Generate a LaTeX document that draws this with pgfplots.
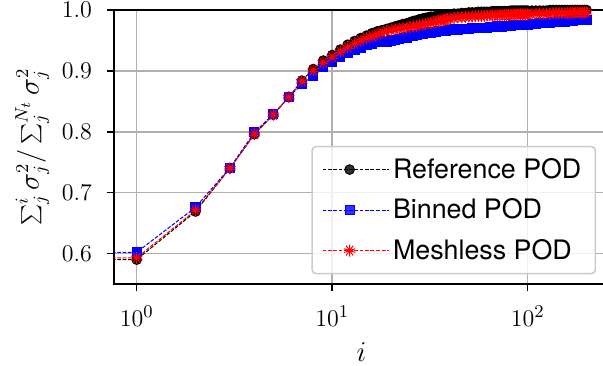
\documentclass[border=0pt]{standalone}
\usepackage{fontspec}
\usepackage{pgfplots}
\pgfplotsset{compat=1.18}
\usepackage{pgfplotstable}
\usetikzlibrary{calc,plotmarks}
\newfontfamily\legfont{TeX Gyre Heros}
\definecolor{gridgray}{RGB}{176,176,176}
\definecolor{legedge}{RGB}{204,204,204}

\pgfplotstableread{
i ref bin mesh
0.001 0.590 0.602 0.593
1 0.590 0.602 0.593
2 0.669 0.676 0.671
3 0.740 0.741 0.740
4 0.796 0.799 0.796
5 0.828 0.829 0.828
6 0.857 0.857 0.857
7 0.884 0.878 0.883
8 0.903 0.892 0.901
9 0.917 0.906 0.914
10 0.926 0.915 0.923
11 0.935 0.923 0.932
12 0.943 0.929 0.939
13 0.949 0.934 0.945
14 0.954 0.938 0.950
15 0.958 0.942 0.954
16 0.962 0.945 0.957
17 0.965 0.947 0.960
18 0.967 0.949 0.963
19 0.969 0.948 0.965
20 0.971 0.950 0.967
21 0.973 0.951 0.968
22 0.975 0.953 0.969
23 0.977 0.954 0.970
24 0.978 0.955 0.971
25 0.980 0.957 0.972
26 0.982 0.958 0.973
27 0.983 0.959 0.974
28 0.985 0.960 0.975
29 0.986 0.961 0.976
30 0.987 0.962 0.977
31 0.988 0.962 0.978
32 0.989 0.963 0.979
33 0.989 0.964 0.980
34 0.990 0.964 0.981
35 0.991 0.965 0.982
36 0.991 0.965 0.983
37 0.992 0.966 0.983
38 0.992 0.966 0.984
39 0.993 0.967 0.985
40 0.993 0.967 0.986
42 0.994 0.968 0.987
44 0.994 0.968 0.988
46 0.995 0.969 0.988
48 0.995 0.969 0.989
50 0.996 0.969 0.989
52 0.996 0.970 0.989
54 0.996 0.970 0.990
56 0.997 0.970 0.990
58 0.997 0.971 0.990
60 0.997 0.971 0.990
62 0.997 0.971 0.991
64 0.997 0.972 0.991
66 0.998 0.972 0.991
68 0.998 0.972 0.991
70 0.998 0.973 0.991
72 0.998 0.973 0.992
74 0.998 0.973 0.992
76 0.998 0.974 0.992
78 0.998 0.974 0.992
80 0.998 0.974 0.992
82 0.999 0.974 0.992
84 0.999 0.975 0.992
86 0.999 0.975 0.993
88 0.999 0.975 0.993
90 0.999 0.975 0.993
92 0.999 0.975 0.993
94 0.999 0.976 0.993
96 0.999 0.976 0.993
98 0.999 0.976 0.993
100 0.999 0.976 0.993
105 0.999 0.977 0.993
110 0.999 0.977 0.994
115 0.999 0.978 0.994
120 0.999 0.978 0.994
125 0.999 0.979 0.994
130 1.000 0.979 0.994
135 1.000 0.980 0.995
140 1.000 0.980 0.995
145 1.000 0.981 0.995
150 1.000 0.981 0.995
155 1.000 0.981 0.995
160 1.000 0.982 0.995
165 1.000 0.982 0.995
170 1.000 0.982 0.996
175 1.000 0.983 0.996
180 1.000 0.983 0.996
185 1.000 0.983 0.996
190 1.000 0.983 0.996
195 1.000 0.984 0.996
200 1.000 0.984 0.996
}\datatable

\begin{document}
\begin{tikzpicture}
\begin{axis}[
  scale only axis,
  width=247.5pt, height=137pt,
  xmode=log, log basis x=10,
  xmin=0.7656, xmax=260.6,
  ymin=0.55, ymax=1.0,
  xtick={1,10,100},
  ytick={0.6,0.7,0.8,0.9,1.0},
  yticklabel style={/pgf/number format/fixed,/pgf/number format/precision=1,/pgf/number format/fixed zerofill, xshift=-4pt},
  xticklabel style={yshift=-4pt},
  tick label style={font=\fontsize{12.5}{15}\selectfont},
  tick align=outside, tick pos=left,
  major tick length=3.5pt, minor tick length=2pt,
  every tick/.style={black, line width=0.8pt},
  minor tick style={line width=0.6pt},
  grid=major,
  major grid style={gridgray, line width=0.8pt},
  axis line style={line width=0.9pt},
  xlabel={$i$},
  ylabel={$\sum_j^i \sigma_j^2/\sum_j^{N_t}\sigma_j^2$},
  label style={font=\fontsize{13.5}{16}\selectfont},
  xlabel style={at={(axis description cs:0.5,-0.248)}, anchor=center},
  ylabel style={at={(axis description cs:-0.165,0.5)}, anchor=center},
  legend style={at={(0.974,0.035)}, anchor=south east,
    font=\legfont\fontsize{13.4}{16}\selectfont,
    draw=legedge, line width=0.8pt, rounded corners=2pt,
    fill=white, fill opacity=0.8, text opacity=1,
    inner xsep=5pt, inner ysep=3.75pt, row sep=4.75pt},
  legend cell align=left,
  legend image code/.code={\draw[mark repeat=2,mark phase=2,#1] plot coordinates {(0pt,0pt) (13.5pt,0pt) (27pt,0pt)}; \path (27pt,0pt) -- (33pt,0pt);},
]
\coordinate (bl) at (rel axis cs:0,0);
\addplot[black, line width=0.5pt, dash pattern=on 1.85pt off 0.8pt, mark=*, mark size=2.4pt, mark options={solid, draw=black, fill=black}] table[x=i, y=ref] {\datatable};
\addlegendentry{Reference POD}
\addplot[blue, line width=0.5pt, dash pattern=on 1.85pt off 0.8pt, mark=square*, mark size=2.3pt, mark options={solid, draw=blue, fill=blue}] table[x=i, y=bin] {\datatable};
\addlegendentry{Binned POD}
\addplot[red, line width=0.5pt, dash pattern=on 1.85pt off 0.8pt, mark=10-pointed star, mark size=3pt, mark options={solid, draw=red, fill=red}] table[x=i, y=mesh] {\datatable};
\addlegendentry{Meshless POD}
\end{axis}
\pgfresetboundingbox
\path[use as bounding box] ($(bl)+(-57pt,-40.5pt)$) rectangle ($(bl)+(244.5pt,142pt)$);
\end{tikzpicture}
\end{document}
